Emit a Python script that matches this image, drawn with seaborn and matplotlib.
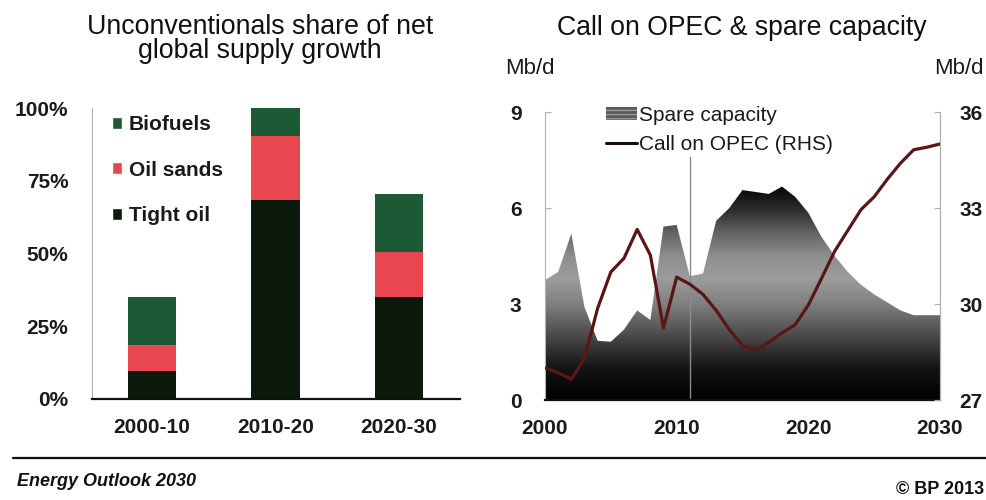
import numpy as np
import pandas as pd
import matplotlib
matplotlib.use("Agg")
import matplotlib.pyplot as plt
import seaborn as sns
from matplotlib.patches import Patch
from matplotlib.lines import Line2D
from matplotlib.colors import LinearSegmentedColormap

# ---------------- data ----------------
periods = ["2000-10", "2010-20", "2020-30"]
tight_oil = [9.5, 68.5, 35.0]
oil_sands = [9.0, 22.0, 15.5]
biofuels = [16.5, 9.5, 20.0]
pct_ticks = [0, 25, 50, 75, 100]
pct_labels = ["0%", "25%", "50%", "75%", "100%"]

years = list(range(2000, 2031))
spare_capacity = [3.75, 4.0, 5.2, 2.9, 1.85, 1.82, 2.2, 2.8, 2.5, 5.42, 5.47,
                  3.87, 3.95, 5.6, 6.0, 6.56, 6.5, 6.44, 6.67, 6.35, 5.85,
                  5.1, 4.5, 4.0, 3.6, 3.3, 3.05, 2.8, 2.65, 2.65, 2.65]
call_on_opec = [28.0, 27.85, 27.65, 28.3, 29.87, 31.0, 31.43, 32.33, 31.53, 29.25, 30.84,
                30.62, 30.3, 29.8, 29.2, 28.7, 28.55, 28.8, 29.1, 29.35, 29.97,
                30.8, 31.65, 32.3, 32.95, 33.35, 33.9, 34.4, 34.82, 34.9, 35.0]
history_end = 2011
lhs_ticks = [0, 3, 6, 9]
rhs_ticks = [27, 30, 33, 36]
year_ticks = [2000, 2010, 2020, 2030]

# ---------------- style ----------------
sns.set_theme(style="white")
plt.rcParams["font.family"] = ["Liberation Sans", "DejaVu Sans"]

C_TIGHT = "#0c1a0e"
C_SANDS = "#e8474f"
C_BIO = "#1c5a36"
C_LINE = "#5a1616"

fig = plt.figure(figsize=(9.86, 5.0), dpi=100)

# ---------------- left chart ----------------
axL = fig.add_axes([92 / 986, 1 - 399 / 500, (460 - 92) / 986, (399 - 108) / 500])
df = pd.DataFrame({"period": periods, "tight": tight_oil, "sands": oil_sands, "bio": biofuels})
df["tight_sands"] = df["tight"] + df["sands"]
df["total"] = df["tight_sands"] + df["bio"]

bw = 0.39
sns.barplot(data=df, x="period", y="total", color=C_BIO, saturation=1, width=bw,
            linewidth=0, ax=axL)
sns.barplot(data=df, x="period", y="tight_sands", color=C_SANDS, saturation=1, width=bw,
            linewidth=0, ax=axL)
sns.barplot(data=df, x="period", y="tight", color=C_TIGHT, saturation=1, width=bw,
            linewidth=0, ax=axL)

axL.set_xlim(-0.486, 2.494)
axL.set_ylim(0, 100)
axL.set_yticks(pct_ticks)
axL.set_yticklabels(pct_labels)
axL.set_xlabel("")
axL.set_ylabel("")
for s in ["top", "right"]:
    axL.spines[s].set_visible(False)
axL.spines["left"].set_color("#b0b0b0")
axL.spines["left"].set_linewidth(0.8)
axL.spines["bottom"].set_color("#111111")
axL.spines["bottom"].set_linewidth(1.6)
axL.tick_params(axis="y", direction="in", length=4, color="#b0b0b0", width=0.8,
                pad=17, labelsize=15)
axL.tick_params(axis="x", length=0, pad=14, labelsize=15)
for t in axL.get_xticklabels() + axL.get_yticklabels():
    t.set_fontweight("bold")
    t.set_color("#1a1a1a")

handlesL = [Patch(facecolor=C_BIO, label="Biofuels"),
            Patch(facecolor=C_SANDS, label="Oil sands"),
            Patch(facecolor=C_TIGHT, label="Tight oil")]
legL = axL.legend(handles=handlesL, loc="upper left", bbox_to_anchor=(112 / 986, 1 - 115 / 500),
                  bbox_transform=fig.transFigure, frameon=False, handlelength=0.5,
                  handleheight=0.5, handletextpad=0.3, labelspacing=1.28,
                  prop={"size": 15, "weight": "bold"}, borderaxespad=0, borderpad=0)
for t in legL.get_texts():
    t.set_color("#1a1a1a")

fig.text(260 / 986, 1 - 39 / 500, "Unconventionals share of net\nglobal supply growth",
         ha="center", va="center", fontsize=19.3, linespacing=0.95, color="#111111")

# ---------------- right chart ----------------
axR = fig.add_axes([545 / 986, 1 - 400 / 500, (940 - 545) / 986, (400 - 112) / 500])
axR.set_xlim(2000, 2030)
axR.set_ylim(0, 9)

poly = axR.fill_between(years, 0, spare_capacity, facecolor="none", edgecolor="none")
stops = [(0.0, "#000000"), (1.0 / 9, "#141414"), (2.0 / 9, "#4a4a4a"), (3.0 / 9, "#808080"),
         (3.8 / 9, "#9c9c9c"), (4.5 / 9, "#8e8e8e"), (5.2 / 9, "#666666"),
         (5.9 / 9, "#303030"), (6.6 / 9, "#080808"), (1.0, "#000000")]
cmap = LinearSegmentedColormap.from_list("spare", stops)
grad = np.linspace(0, 1, 400).reshape(-1, 1)
im = axR.imshow(grad, extent=[2000, 2030, 0, 9], origin="lower", aspect="auto",
                cmap=cmap, vmin=0, vmax=1, zorder=1)
im.set_clip_path(poly.get_paths()[0], transform=axR.transData)

axR.axvline(history_end, ymin=0, ymax=0.845, color="#8a8a8a", lw=1.0, zorder=2)

axR.set_yticks(lhs_ticks)
axR.set_xticks(year_ticks)
axR.spines["top"].set_visible(False)
axR.spines["left"].set_color("#b0b0b0")
axR.spines["left"].set_linewidth(0.8)
axR.spines["right"].set_color("#b0b0b0")
axR.spines["right"].set_linewidth(0.8)
axR.spines["bottom"].set_color("#111111")
axR.spines["bottom"].set_linewidth(1.6)
axR.tick_params(axis="y", direction="in", length=4, color="#b0b0b0", width=0.8,
                pad=17, labelsize=15)
axR.tick_params(axis="x", length=0, pad=14, labelsize=15)

ax2 = axR.twinx()
ax2.set_ylim(27, 36)
sns.lineplot(x=years, y=call_on_opec, ax=ax2, color=C_LINE, lw=2.3, zorder=3)
ax2.set_yticks(rhs_ticks)
ax2.spines["top"].set_visible(False)
ax2.spines["left"].set_visible(False)
ax2.spines["bottom"].set_visible(False)
ax2.spines["right"].set_color("#b0b0b0")
ax2.spines["right"].set_linewidth(0.8)
ax2.tick_params(axis="y", direction="in", length=4, color="#b0b0b0", width=0.8,
                pad=14, labelsize=15)
for t in axR.get_xticklabels() + axR.get_yticklabels() + ax2.get_yticklabels():
    t.set_fontweight("bold")
    t.set_color("#1a1a1a")

handlesR = [Patch(facecolor="#5a5a5a", edgecolor="#9a9a9a", hatch="----", lw=0,
                  label="Spare capacity"),
            Line2D([0], [0], color="#1a0a0a", lw=2.2, label="Call on OPEC (RHS)")]
legR = ax2.legend(handles=handlesR, loc="upper left", bbox_to_anchor=(606 / 986, 1 - 106 / 500),
                  bbox_transform=fig.transFigure, frameon=False, handlelength=1.5,
                  handleheight=0.55, handletextpad=0.1, labelspacing=0.48,
                  prop={"size": 15}, borderaxespad=0, borderpad=0)
for t in legR.get_texts():
    t.set_color("#1a1a1a")

fig.text(742 / 986, 1 - 28 / 500, "Call on OPEC & spare capacity", ha="center", va="center",
         fontsize=19.2, color="#111111")
fig.text(505 / 986, 1 - 68 / 500, "Mb/d", ha="left", va="center", fontsize=16, color="#1a1a1a")
fig.text(984 / 986, 1 - 68 / 500, "Mb/d", ha="right", va="center", fontsize=16, color="#1a1a1a")

# ---------------- footer ----------------
fig.add_artist(Line2D([13 / 986, 1.0], [1 - 458 / 500, 1 - 458 / 500], color="#111111",
                      lw=1.6, transform=fig.transFigure))
fig.text(17 / 986, 1 - 481 / 500, "Energy Outlook 2030", ha="left", va="center",
         fontsize=13, fontweight="bold", fontstyle="italic", color="#111111")
fig.text(984 / 986, 1 - 490 / 500, "© BP 2013", ha="right", va="center",
         fontsize=13, fontweight="bold", color="#111111")

fig.savefig("out.png", dpi=100, facecolor="white")
